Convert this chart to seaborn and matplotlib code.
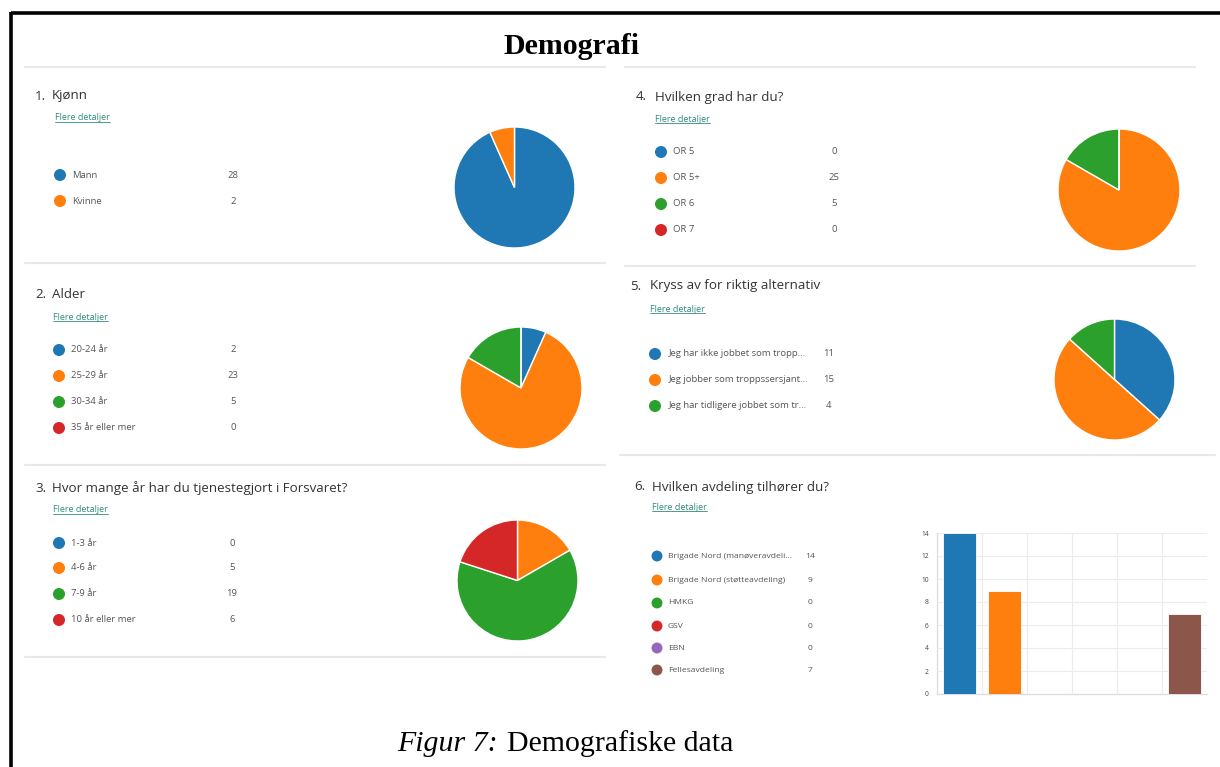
import matplotlib
matplotlib.use("Agg")
import matplotlib.pyplot as plt
import seaborn as sns
import pandas as pd

# ---------------- data ----------------
kjonn_labels = ["Mann", "Kvinne"]
kjonn_values = [28, 2]

alder_labels = ["20-24 år", "25-29 år", "30-34 år", "35 år eller mer"]
alder_values = [2, 23, 5, 0]

tjeneste_labels = ["1-3 år", "4-6 år", "7-9 år", "10 år eller mer"]
tjeneste_values = [0, 5, 19, 6]

grad_labels = ["OR 5", "OR 5+", "OR 6", "OR 7"]
grad_values = [0, 25, 5, 0]

alt_labels = ["Jeg har ikke jobbet som tropp...",
              "Jeg jobber som troppssersjant...",
              "Jeg har tidligere jobbet som tr..."]
alt_values = [11, 15, 4]

avd_labels = ["Brigade Nord (manøveravdeli...", "Brigade Nord (støtteavdeling)",
              "HMKG", "GSV", "EBN", "Fellesavdeling"]
avd_values = [14, 9, 0, 0, 0, 7]
bar_yticks = [0, 2, 4, 6, 8, 10, 12, 14]

questions = ["Kjønn", "Alder", "Hvor mange år har du tjenestegjort i Forsvaret?",
             "Hvilken grad har du?", "Kryss av for riktig alternativ",
             "Hvilken avdeling tilhører du?"]
main_title = "Demografi"
caption_italic = "Figur 7:"
caption_rest = "Demografiske data"
link_text = "Flere detaljer"

# ---------------- style ----------------
sns.set_style("white")
plt.rcParams["font.family"] = ["Open Sans", "DejaVu Sans"]
palette = sns.color_palette("tab10")

W, H = 1220, 767
fig = plt.figure(figsize=(W / 100, H / 100), dpi=100)
fig.patch.set_facecolor("white")

ax0 = fig.add_axes([0, 0, 1, 1])
ax0.set_xlim(0, W)
ax0.set_ylim(H, 0)
ax0.axis("off")

def frac(x0, y0, x1, y1):
    return [x0 / W, 1 - y1 / H, (x1 - x0) / W, (y1 - y0) / H]

# border
ax0.plot([10.5, 10.5], [12, H + 5], color="black", lw=2.6, solid_capstyle="butt")
ax0.plot([10.5, W + 5], [12.5, 12.5], color="black", lw=2.6, solid_capstyle="butt")

# title / caption
ax0.text(572, 46, main_title, family=["Liberation Serif"], weight="bold",
         fontsize=21.5, ha="center", va="center", color="black")
ax0.text(498, 751, caption_italic, family=["Liberation Serif"], style="italic",
         fontsize=21.5, ha="right", va="baseline", color="black")
ax0.text(507, 751, caption_rest, family=["Liberation Serif"],
         fontsize=21.5, ha="left", va="baseline", color="black")

# separators
sep = "#e9e9e9"
for y in [67, 263, 465, 657]:
    ax0.plot([25, 605], [y, y], color=sep, lw=1.6)
for y in [67, 266]:
    ax0.plot([625, 1195], [y, y], color=sep, lw=1.6)
ax0.plot([620, 1215], [455, 455], color=sep, lw=1.6)

links = []

def panel(num, qx, tx, ty, lx, ly, labels, values, rows, dotx, labx, valx,
          fs_lab=6.8, dot_s=75):
    ax0.text(qx, ty, f"{num}.", fontsize=9.6, color="#333333", ha="left", va="center")
    ax0.text(tx, ty, questions[num - 1], fontsize=9.6, color="#333333", ha="left", va="center")
    t = ax0.text(lx, ly, link_text, fontsize=6.5, color="#2e8b7d", ha="left", va="center")
    links.append(t)
    for i, (lab, val, ry) in enumerate(zip(labels, values, rows)):
        ax0.scatter([dotx], [ry], s=dot_s, color=palette[i], edgecolor="none", zorder=3)
        ax0.text(labx, ry, lab, fontsize=fs_lab, color="#555555", ha="left", va="center")
        ax0.text(valx, ry, str(val), fontsize=fs_lab, color="#555555", ha="center", va="center")

panel(1, 35, 52, 96, 55, 118, kjonn_labels, kjonn_values, [175, 201], 60, 72, 233)
panel(2, 35, 52, 294, 53, 317, alder_labels, alder_values, [350, 376, 402, 428], 59, 71, 233)
panel(3, 35, 52, 488, 53, 510, tjeneste_labels, tjeneste_values, [543, 568, 594, 620], 59, 71, 232)
panel(4, 636, 655, 97, 655, 119, grad_labels, grad_values, [152, 178, 204, 230], 661, 673, 834)
panel(5, 630, 650, 286, 650, 309, alt_labels, alt_values, [354, 380, 406], 655, 669, 829)
panel(6, 634, 652, 487, 652, 507, avd_labels, avd_values,
      [556, 580, 603, 626, 648, 670], 657, 668, 810, fs_lab=6.1, dot_s=62)

# pies
def pie(cx, cy, r, values):
    ax = fig.add_axes(frac(cx - r, cy - r, cx + r, cy + r))
    ax.pie(values, colors=palette[:len(values)], startangle=90, counterclock=False,
           wedgeprops=dict(edgecolor="white", linewidth=1.0))
    ax.set_xlim(-1.0, 1.0)
    ax.set_ylim(-1.0, 1.0)
    ax.set_aspect("equal")
    ax.axis("off")

pie(514.5, 187.5, 60.5, kjonn_values)
pie(521, 388, 61, alder_values)
pie(517.5, 580.5, 60.5, tjeneste_values)
pie(1119, 190, 61, grad_values)
pie(1114.5, 379.5, 60.5, alt_values)

# bar chart
axb = fig.add_axes(frac(937, 533, 1207, 694))
df = pd.DataFrame({"avdeling": avd_labels, "antall": avd_values})
sns.barplot(data=df, x="avdeling", y="antall", hue="avdeling",
            palette=palette[:len(avd_labels)], legend=False, width=0.73,
            saturation=1, edgecolor="white", linewidth=0.6, ax=axb, zorder=3)
axb.set_ylim(0, 14)
axb.set_xlim(-0.5, len(avd_labels) - 0.5)
axb.set_yticks(bar_yticks)
axb.set_yticklabels([str(v) for v in bar_yticks], fontsize=4.8, color="#444444")
axb.set_xticks([i - 0.5 for i in range(len(avd_labels) + 1)])
axb.set_xticklabels([])
axb.tick_params(axis="y", length=0, pad=6)
axb.tick_params(axis="x", length=4, color="#dddddd", width=0.8)
axb.set_xlabel("")
axb.set_ylabel("")
axb.grid(True, color="#ececec", lw=0.8, zorder=0)
axb.set_axisbelow(True)
for s in ["top", "right"]:
    axb.spines[s].set_visible(False)
for s in ["left", "bottom"]:
    axb.spines[s].set_color("#dddddd")
    axb.spines[s].set_linewidth(0.9)

# underline links
fig.canvas.draw()
inv = ax0.transData.inverted()
for t in links:
    bb = t.get_window_extent()
    (x0, y0), (x1, y1) = inv.transform([[bb.x0, bb.y0], [bb.x1, bb.y1]])
    ax0.plot([x0, x1], [y0 - 0.5, y0 - 0.5], color="#2e8b7d", lw=0.6)

fig.savefig("out.png", dpi=100, facecolor="white")
